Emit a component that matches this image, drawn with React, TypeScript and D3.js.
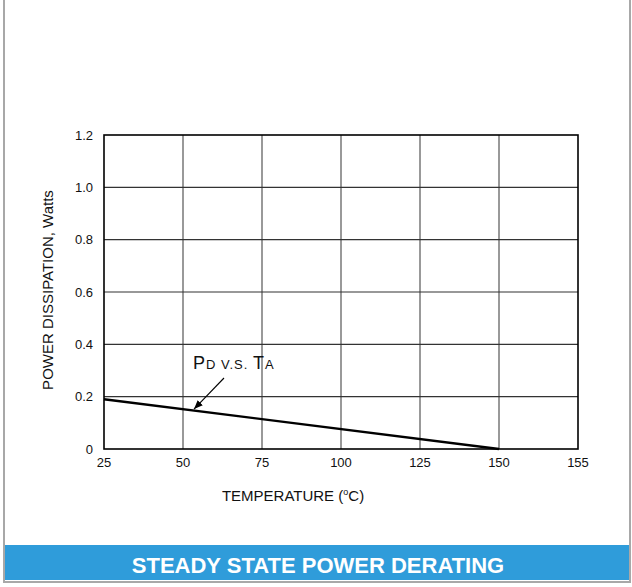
import React from "react";
import * as d3 from "d3";

const xTicks = [25, 50, 75, 100, 125, 150, 155];
const yTicks = [0, 0.2, 0.4, 0.6, 0.8, 1.0, 1.2];
const lineTemps = [25, 150];
const linePower = [0.19, 0];

const W = 632;
const H = 587;
const left = 104;
const right = 578;
const top = 135;
const bottom = 449;

export default function App() {
  const x = d3.scalePoint<number>().domain(xTicks).range([left, right]);
  const y = d3.scaleLinear().domain([0, 1.2]).range([bottom, top]);
  const pts = lineTemps.map((t, i) => [x(t) as number, y(linePower[i])] as [number, number]);
  const line = d3.line()(pts) as string;
  const ax = (x(50) as number) + 11;
  const frac = (ax - pts[0][0]) / (pts[1][0] - pts[0][0]);
  const ay = pts[0][1] + frac * (pts[1][1] - pts[0][1]);
  const font = "'Liberation Sans', Arial, Helvetica, sans-serif";
  return (
    <svg width={W} height={H} style={{ position: "absolute", left: 0, top: 0, display: "block" }} fontFamily={font}>
      <rect x={0} y={0} width={W} height={H} fill="#fff" />
      <defs>
        <marker id="ah" viewBox="0 0 10 10" refX="10" refY="5" markerWidth="9" markerHeight="9" orient="auto" markerUnits="userSpaceOnUse">
          <path d="M0,1 L10,5 L0,9 Z" fill="#000" />
        </marker>
      </defs>
      <rect x={4} y={-2} width={626} height={584} fill="none" stroke="#a8a8a8" strokeWidth={2} />
      <rect x={5} y={545} width={624} height={35} fill="#2f9cda" />
      <text x={318} y={573} textAnchor="middle" fill="#fff" fontWeight="bold" fontSize={22}>
        STEADY STATE POWER DERATING
      </text>
      {xTicks.slice(1, -1).map((t) => (
        <line key={"gx" + t} x1={x(t)} x2={x(t)} y1={top} y2={bottom} stroke="#555" strokeWidth={1.2} />
      ))}
      {yTicks.slice(1, -1).map((t) => (
        <line key={"gy" + t} x1={left} x2={right} y1={y(t)} y2={y(t)} stroke="#333" strokeWidth={1.2} />
      ))}
      <rect x={left} y={top} width={right - left} height={bottom - top} fill="none" stroke="#000" strokeWidth={1.6} />
      <path d={line} fill="none" stroke="#000" strokeWidth={2.4} />
      <line x1={224} y1={378} x2={ax} y2={ay - 1.5} stroke="#000" strokeWidth={1.1} markerEnd="url(#ah)" />
      <text x={193} y={369} fontSize={18} fill="#111" letterSpacing={1}>
        P<tspan fontSize={13}>D V.S. </tspan>T<tspan fontSize={13}>A</tspan>
      </text>
      {yTicks.map((t) => (
        <text key={"yl" + t} x={left - 11} y={y(t) + 4.5} textAnchor="end" fontSize={13} fill="#111">
          {t === 0 ? "0" : t.toFixed(1)}
        </text>
      ))}
      {xTicks.map((t) => (
        <text key={"xl" + t} x={x(t)} y={bottom + 18} textAnchor="middle" fontSize={13} fill="#111">
          {t}
        </text>
      ))}
      <text x={293} y={501} textAnchor="middle" fontSize={15} fill="#111">
        TEMPERATURE (<tspan fontSize={9} dy={-6}>o</tspan><tspan dy={6}>C)</tspan>
      </text>
      <text transform={`translate(53,${(top + bottom) / 2 - 2}) rotate(-90)`} textAnchor="middle" fontSize={15} fill="#111">
        POWER DISSIPATION, Watts
      </text>
    </svg>
  );
}
